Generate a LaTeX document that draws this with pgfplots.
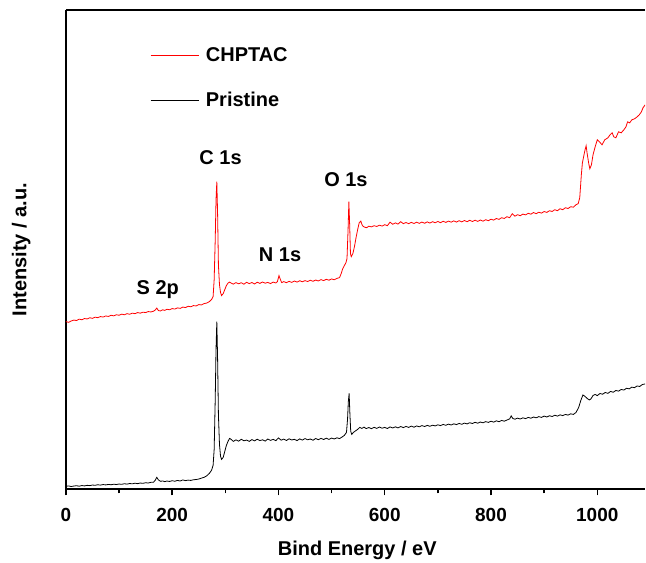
\documentclass[border=0pt]{standalone}
\usepackage{pgfplots}
\pgfplotsset{compat=1.18}
\usepackage{fontspec}
\setmainfont{Liberation Sans}
\begin{document}
\begin{tikzpicture}
\begin{axis}[
  scale only axis, width=580pt, height=480pt,
  xmin=0, xmax=1090, ymin=0, ymax=480,
  axis x line*=box, axis y line*=left,
  axis line style={line width=1.8pt},
  ytick=\empty,
  xtick={0,200,400,600,800,1000},
  minor xtick={100,300,500,700,900},
  xtick pos=bottom, tick align=outside,
  major tick length=6pt, minor tick length=4pt,
  every tick/.style={black, line width=1.5pt},
  /pgf/number format/assume math mode=true,
  /pgf/number format/1000 sep={},
  ticklabel style={font=\fontsize{19}{22}\selectfont\bfseries},
  xticklabel style={yshift=-9pt},
  xlabel={Bind Energy / eV}, ylabel={Intensity / a.u.},
  label style={font=\fontsize{20}{24}\selectfont\bfseries},
  xlabel style={at={(axis description cs:0.503,-0.127)}, anchor=center},
  ylabel style={at={(axis description cs:-0.077,0.5)}, anchor=center},
  legend style={draw=none, fill=none, at={(axis description cs:0.14,0.93)}, anchor=north west,
    font=\fontsize{20}{24}\selectfont\bfseries, row sep=25pt},
  legend cell align=left,
  legend image code/.code={\draw[#1] (0pt,0pt) -- (48pt,0pt); \path (53pt,0pt);},
  clip=true,
]
\addplot[red, line width=0.8pt] coordinates {
(0,168) (5,167.2) (10,168.6) (15,169.5) (20,169.0) (25,170.4) (30,169.8) (35,171.0) (40,170.6) (45,171.8) (50,171.2) (55,172.4) (60,171.9) (65,173.0) (70,172.5) (75,173.6) (80,173.1) (85,174.3) (90,173.7) (95,174.8) (100,174.3) (105,175.4) (110,174.8) (115,175.9) (120,175.3) (125,176.4) (130,175.9) (135,177.0) (140,176.4) (145,177.4) (150,177.0) (155,178.0) (160,177.6) (165,178.4) (168,179.5) (171,181.5) (174,179.0) (178,178.6) (182,179.8) (186,179.2) (190,180.3) (195,179.8) (200,181.0) (205,180.5) (210,181.7) (215,181.2) (220,182.5) (225,182.0) (230,183.3) (235,182.8) (240,184.0) (245,183.6) (250,185.0) (255,184.6) (260,186.0) (265,186.5) (270,188.0) (274,190) (277,193) (279,210) (281,250) (282.5,290) (284,308) (285.5,275) (287,225) (289,205) (291,197) (293,194) (296,196) (299,200) (302,204) (305,206.5) (308,207.5) (311,206.5) (315,205.5) (320,207.0) (325,205.8) (330,206.9) (335,205.4) (340,207.3) (345,206.0) (350,207.1) (355,205.6) (360,207.4) (365,206.2) (370,207.6) (375,206.4) (380,207.2) (385,206.0) (390,207.5) (395,206.6) (398,208) (401,214) (403,211) (406,207.0) (410,208.0) (415,206.9) (420,208.3) (425,207.2) (430,208.6) (435,207.5) (440,208.9) (445,207.8) (450,209.0) (455,208.1) (460,209.4) (465,208.3) (470,209.6) (475,208.6) (480,210.0) (485,209.0) (490,210.3) (495,209.4) (500,210.7) (505,209.8) (510,211.2) (515,212.0) (518,216) (521,221) (524,224) (527,227) (529,231) (531,260) (532.5,288) (534,265) (535.5,236) (537,233) (540,236) (543,243) (546,252) (549,260) (552,267) (555,268.5) (558,264) (562,262.5) (566,262.0) (570,263.5) (575,262.8) (580,264.0) (585,263.2) (590,264.5) (595,263.6) (600,265.0) (605,264.0) (610,267.5) (615,265.4) (620,266.8) (625,265.6) (630,268.0) (635,266.0) (640,267.2) (645,266.0) (650,267.3) (655,266.2) (660,267.5) (665,266.3) (670,267.6) (675,266.4) (680,267.8) (685,266.6) (690,268.0) (695,266.9) (700,268.2) (705,267.0) (710,268.4) (715,267.3) (720,268.6) (725,267.5) (730,268.8) (735,267.6) (740,269.0) (745,267.8) (750,269.2) (755,268.0) (760,269.4) (765,268.2) (770,269.5) (775,268.3) (780,269.7) (785,268.5) (790,270.0) (795,269.0) (800,270.5) (805,269.6) (810,271.2) (815,270.3) (820,272.0) (825,271.2) (830,273.0) (835,272.0) (840,276.0) (845,273.5) (850,275.0) (855,274.0) (860,275.6) (865,274.8) (870,276.4) (875,275.5) (880,277.2) (885,276.0) (890,277.5) (895,276.6) (900,278.2) (905,277.3) (910,279.0) (915,278.2) (920,280.0) (925,279.0) (930,281.0) (935,280.0) (940,282.0) (945,281.2) (950,283.0) (955,282.5) (960,285.0) (964,286.0) (967,292) (970,315) (972,327) (975,335) (977,340) (979,344) (981,336) (984,326) (986,321) (989,325) (992,335) (996,343) (1000,350) (1004,348) (1009,345) (1014,350) (1020,352) (1024,355) (1028,357) (1031,353) (1035,352) (1040,358) (1045,357) (1050,360) (1054,363) (1057,368) (1061,367) (1065,370) (1070,371) (1075,373) (1079,375) (1083,378) (1086,382) (1090,385)
};
\addlegendentry{CHPTAC}
\addplot[black, line width=0.8pt] coordinates {
(0,3.0) (5,3.4) (10,2.8) (15,3.3) (20,3.6) (25,3.1) (30,3.8) (35,3.4) (40,4.0) (45,3.7) (50,4.3) (55,4.0) (60,4.6) (65,4.2) (70,4.8) (75,4.4) (80,4.9) (85,4.6) (90,5.1) (95,4.8) (100,5.3) (105,5.0) (110,5.6) (115,5.2) (120,5.8) (125,5.5) (130,6.1) (135,5.7) (140,6.3) (145,6.0) (150,6.6) (155,6.3) (160,7.0) (165,7.2) (168,9.0) (171,12.0) (174,9.5) (178,8.0) (182,8.4) (186,7.7) (190,8.3) (195,7.9) (200,8.6) (205,8.1) (210,8.9) (215,8.3) (220,9.4) (225,8.7) (230,9.2) (235,8.9) (240,9.6) (245,9.8) (250,10.3) (255,11.2) (260,12.0) (265,13.5) (270,16.0) (274,19.0) (277,24.0) (279,40) (281,90) (282.5,140) (284,168) (285.5,130) (287,75) (289,45) (291,33) (293,30) (296,32) (299,38) (302,44) (305,48) (308,51) (311,50) (315,48) (320,49.5) (325,48.2) (330,50.1) (335,48.6) (340,49.3) (345,48.0) (350,49.8) (355,48.5) (360,50.2) (365,48.8) (370,49.6) (375,48.3) (380,50.4) (385,49.0) (390,50.0) (395,48.7) (400,51.5) (405,49.2) (410,50.3) (415,48.9) (420,50.6) (425,49.4) (430,50.1) (435,48.8) (440,50.5) (445,49.3) (450,50.8) (455,49.6) (460,50.4) (465,49.1) (470,50.9) (475,49.7) (480,51.0) (485,49.9) (490,51.2) (495,50.0) (500,51.3) (505,50.4) (510,51.6) (515,50.8) (520,52.5) (524,54) (528,57) (530,70) (531.5,88) (533,96) (534.5,75) (536,58) (538,55) (541,57) (545,58.5) (549,60) (553,62) (557,61) (561,62.3) (565,60.8) (570,61.9) (575,60.7) (580,62.1) (585,61.0) (590,62.4) (595,61.2) (600,62.0) (605,60.9) (610,62.5) (615,61.4) (620,62.6) (625,61.5) (630,62.9) (635,61.8) (640,63.0) (645,62.0) (650,63.3) (655,62.2) (660,63.5) (665,62.6) (670,63.8) (675,62.9) (680,64.0) (685,63.1) (690,64.2) (695,63.5) (700,64.6) (705,63.8) (710,65.0) (715,64.1) (720,65.3) (725,64.4) (730,65.6) (735,64.8) (740,66.0) (745,65.1) (750,66.3) (755,65.5) (760,66.7) (765,65.9) (770,67.1) (775,66.2) (780,67.4) (785,66.6) (790,67.8) (795,67.0) (800,68.2) (805,67.3) (810,68.6) (815,67.7) (820,69.0) (825,68.2) (830,69.4) (835,70.5) (838,73.5) (841,71.0) (845,70.2) (850,71.3) (855,70.4) (860,71.6) (865,70.8) (870,72.0) (875,71.2) (880,72.4) (885,71.6) (890,72.8) (895,72.0) (900,73.3) (905,72.4) (910,73.7) (915,72.9) (920,74.2) (925,73.3) (930,74.6) (935,73.8) (940,75.0) (945,74.3) (950,75.6) (955,75.0) (960,77) (965,82) (969,89) (973,94.5) (977,93) (981,91) (985,89.5) (988,90.5) (992,94) (996,95) (1000,93.8) (1005,96.0) (1010,95.2) (1015,97.0) (1020,96.1) (1025,98.0) (1030,97.2) (1035,99.0) (1040,98.3) (1045,100.0) (1050,99.4) (1055,101.2) (1060,100.6) (1065,102.3) (1070,101.8) (1075,103.5) (1080,103.0) (1085,105.0) (1090,105.5)
};
\addlegendentry{Pristine}
\node[font=\fontsize{20}{24}\selectfont\bfseries] at (axis cs:291,332) {C 1s};
\node[font=\fontsize{20}{24}\selectfont\bfseries] at (axis cs:403,235) {N 1s};
\node[font=\fontsize{20}{24}\selectfont\bfseries] at (axis cs:527,310) {O 1s};
\node[font=\fontsize{20}{24}\selectfont\bfseries] at (axis cs:173,200) {S 2p};
\end{axis}
\path (current axis.south west) ++(-66pt,-73pt);
\path (current axis.north west) ++(0,10pt);
\end{tikzpicture}
\end{document}
